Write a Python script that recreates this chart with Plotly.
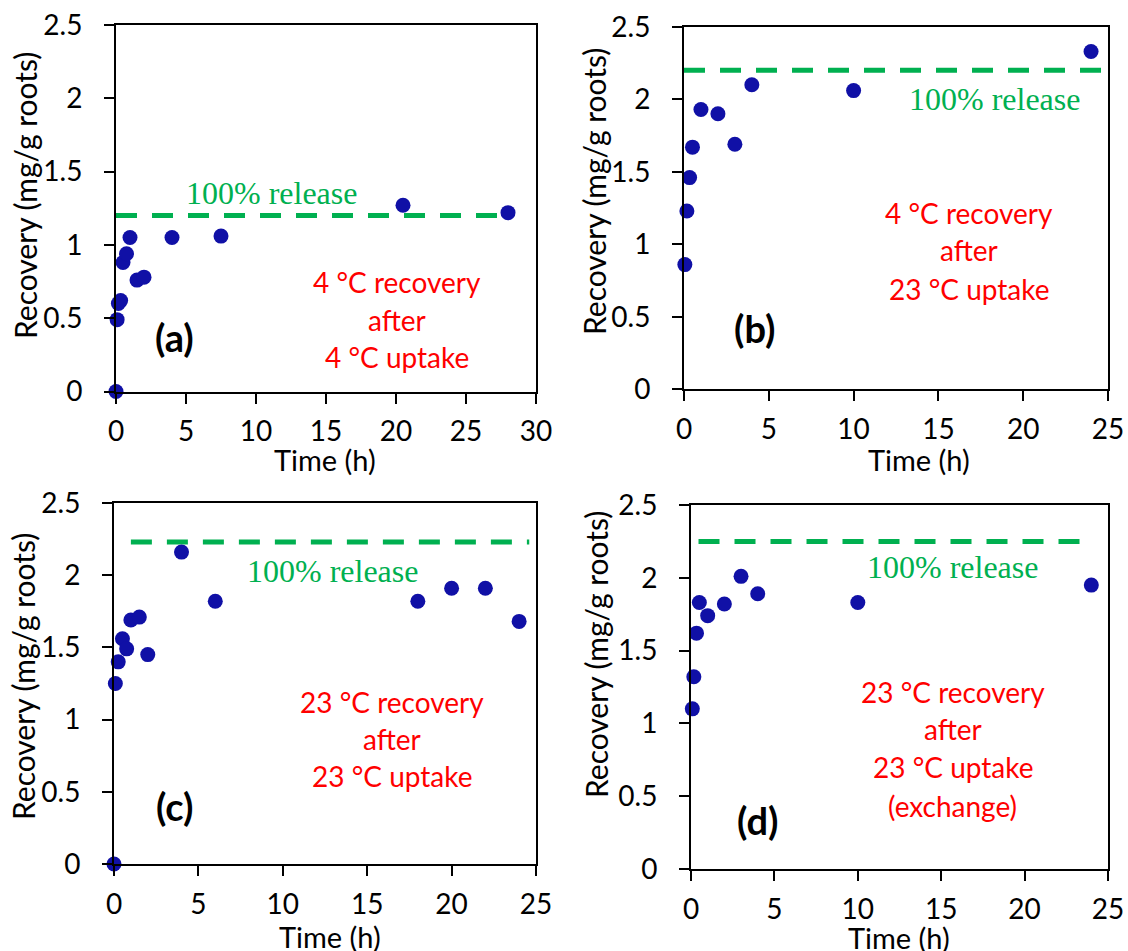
import plotly.graph_objects as go

# ---------------- data ----------------
time_a = [0, 0.08, 0.17, 0.33, 0.5, 0.75, 1, 1.5, 2, 4, 7.5, 20.5, 28]
rec_a = [0, 0.49, 0.60, 0.62, 0.88, 0.94, 1.05, 0.76, 0.78, 1.05, 1.06, 1.27, 1.22]

time_b = [0.05, 0.17, 0.33, 0.5, 1, 2, 3, 4, 10, 24]
rec_b = [0.86, 1.23, 1.46, 1.67, 1.93, 1.90, 1.69, 2.10, 2.06, 2.33]

time_c = [0, 0.08, 0.25, 0.5, 0.75, 1, 1.5, 2, 4, 6, 18, 20, 22, 24]
rec_c = [0, 1.25, 1.40, 1.56, 1.49, 1.69, 1.71, 1.45, 2.16, 1.82, 1.82, 1.91, 1.91, 1.68]

time_d = [0.08, 0.17, 0.33, 0.5, 1, 2, 3, 4, 10, 24]
rec_d = [1.10, 1.32, 1.62, 1.83, 1.74, 1.82, 2.01, 1.89, 1.83, 1.95]

release_level = [1.2, 2.2, 2.23, 2.25]      # 100% release level per panel
release_from = [0, 0, 1.0, 0.45]
release_to = [28.3, 24.9, 24.6, 24.0]

x_max = [30, 25, 25, 25]
panel_labels = ["(a)", "(b)", "(c)", "(d)"]
condition_lines = [
    ["4 °C recovery", "after", "4 °C uptake"],
    ["4 °C recovery", "after", "23 °C uptake"],
    ["23 °C recovery", "after", "23 °C uptake"],
    ["23 °C recovery", "after", "23 °C uptake", "(exchange)"],
]
y_ticks = [0, 0.5, 1, 1.5, 2, 2.5]
x_title = "Time (h)"
y_title = "Recovery (mg/g roots)"

# ---------------- layout geometry (pixels) ----------------
W, H = 1128, 951
# left, right, top, bottom of each plot area
boxes = [(116, 536, 25, 391.5), (684, 1108, 26.8, 389.3),
         (114, 536, 503, 864), (691, 1108, 505, 869)]
# annotation positions in data units
release_text_pos = [(11.1, 1.353), (18.3, 2.0), (12.95, 2.027), (15.65, 2.072)]
label_pos = [(4.2, 0.37), (4.16, 0.424), (3.6, 0.40), (3.99, 0.337)]
cond_x = [20.1, 16.8, 16.46, 15.68]
cond_y = [[0.75, 0.49, 0.234], [1.214, 0.958, 0.692],
          [1.122, 0.866, 0.607], [1.218, 0.959, 0.698, 0.433]]
# axis title centres (pixels)
ytitle_px = [(25, 196), (594, 192), (23, 677), (596, 655)]
xtitle_px = [(325, 459), (919, 459), (330, 936), (899, 937)]

series_t = [time_a, time_b, time_c, time_d]
series_r = [rec_a, rec_b, rec_c, rec_d]

MARK = "#1010A6"
GREEN = "#00B050"
RED = "#FF0000"
SANS = "Lato"
SERIF = "Liberation Serif"
TICKFONT = dict(family=SANS, size=28, color="black")

fig = go.Figure()
layout = dict(width=W, height=H, margin=dict(l=0, r=0, t=0, b=0, pad=0),
              paper_bgcolor="white", plot_bgcolor="white", showlegend=False)
annotations = []

for i in range(4):
    n = "" if i == 0 else str(i + 1)
    m = str(i + 5)                      # label-only overlay axes
    xa, ya = "x" + n, "y" + n
    xl, yl = "x" + m, "y" + m
    l, r, t, b = boxes[i]
    frame = dict(showline=True, mirror=True, linewidth=2, linecolor="black",
                 ticks="outside", ticklen=10, tickwidth=2, tickcolor="black",
                 showgrid=False, zeroline=False, showticklabels=False,
                 automargin=False)
    labels = dict(showline=False, ticks="outside", tickcolor="rgba(0,0,0,0)",
                  showgrid=False, zeroline=False, showticklabels=True,
                  tickfont=TICKFONT, automargin=False)
    layout["xaxis" + n] = dict(domain=[l / W, r / W], range=[0, x_max[i]], dtick=5,
                               anchor=ya, **frame)
    layout["yaxis" + n] = dict(domain=[1 - b / H, 1 - t / H], range=[0, 2.5],
                               tickvals=y_ticks, anchor=xa, **frame)
    layout["xaxis" + m] = dict(overlaying=xa, anchor=ya, side="bottom",
                               range=[0, x_max[i]], dtick=5, ticklen=15, **labels)
    layout["yaxis" + m] = dict(overlaying=ya, anchor=xa, side="left",
                               range=[0, 2.5], tickvals=y_ticks, ticklen=27, **labels)
    # empty trace so the label axes are drawn
    fig.add_trace(go.Scatter(x=[None], y=[None], xaxis=xl, yaxis=yl,
                             mode="markers", hoverinfo="skip"))
    # 100% release line
    fig.add_trace(go.Scatter(x=[release_from[i], release_to[i]],
                             y=[release_level[i], release_level[i]],
                             mode="lines", xaxis=xa, yaxis=ya,
                             line=dict(color=GREEN, width=5, dash="21px,15px"),
                             hoverinfo="skip"))
    # data points
    fig.add_trace(go.Scatter(x=series_t[i], y=series_r[i], mode="markers",
                             xaxis=xa, yaxis=ya, cliponaxis=False,
                             marker=dict(color=MARK, size=15)))
    annotations.append(dict(x=release_text_pos[i][0], y=release_text_pos[i][1],
                            xref=xa, yref=ya, text="100% release", showarrow=False,
                            xanchor="center", yanchor="middle",
                            font=dict(family=SERIF, size=32, color=GREEN)))
    annotations.append(dict(x=label_pos[i][0], y=label_pos[i][1], xref=xa, yref=ya,
                            text="<b>" + panel_labels[i] + "</b>", showarrow=False,
                            xanchor="center", yanchor="middle",
                            font=dict(family=SANS, size=38, color="black")))
    for line, yy in zip(condition_lines[i], cond_y[i]):
        annotations.append(dict(x=cond_x[i], y=yy, xref=xa, yref=ya, text=line,
                                showarrow=False, xanchor="center", yanchor="middle",
                                font=dict(family=SANS, size=28, color=RED)))
    annotations.append(dict(x=ytitle_px[i][0] / W, y=1 - ytitle_px[i][1] / H,
                            xref="paper", yref="paper", text=y_title, textangle=-90,
                            showarrow=False, xanchor="center", yanchor="middle",
                            font=dict(family=SANS, size=30, color="black")))
    annotations.append(dict(x=xtitle_px[i][0] / W, y=1 - xtitle_px[i][1] / H,
                            xref="paper", yref="paper", text=x_title,
                            showarrow=False, xanchor="center", yanchor="middle",
                            font=dict(family=SANS, size=29, color="black")))

layout["annotations"] = annotations
fig.update_layout(**layout)
fig.write_html("out.html")
